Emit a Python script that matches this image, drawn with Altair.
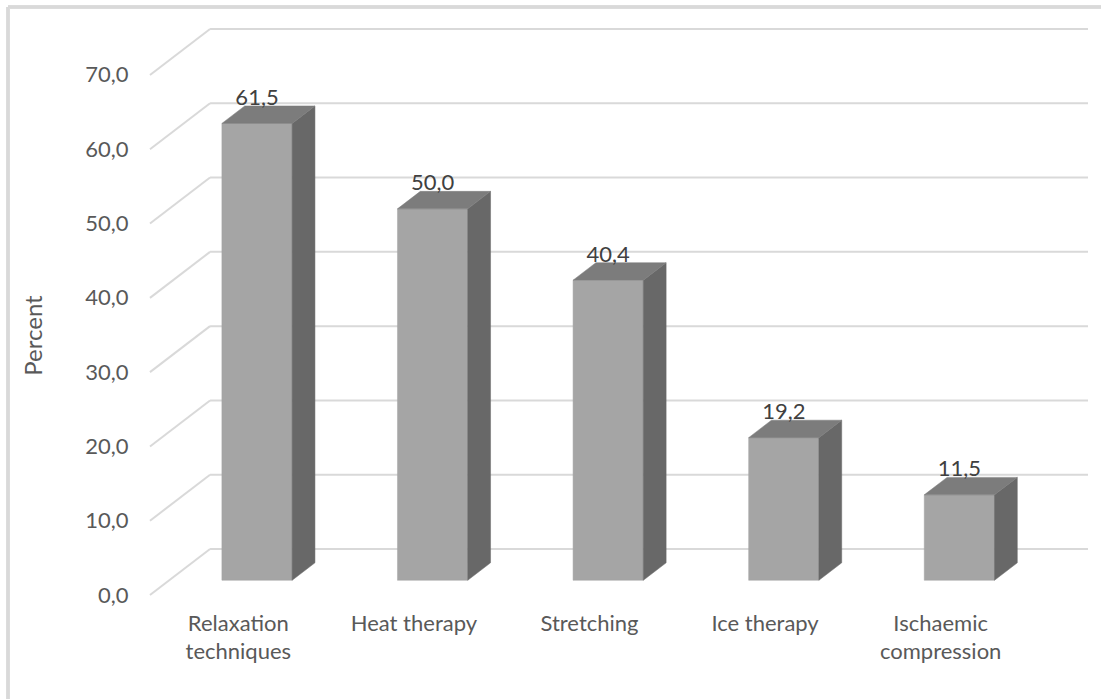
import json
import textwrap

import altair as alt
import pandas as pd

# Treatment methods and the share of respondents using each (%)
categories = ["Relaxation techniques", "Heat therapy", "Stretching", "Ice therapy", "Ischaemic compression"]
percent = [61.5, 50.0, 40.4, 19.2, 11.5]
y_ticks = [0, 10, 20, 30, 40, 50, 60, 70]

# Oblique projection: offset of the back wall from the front plane
DEPTH_X = 0.342   # in category units
DEPTH_Y = 6.19    # in percent units
BAR_FRONT, BAR_BACK = 0.32, 0.70   # depth fractions occupied by each bar
BAR_WIDTH = 0.40

FRONT = "#a5a5a5"
TOP = "#7c7c7c"
SIDE = "#686868"
GRID = "#d9d9d9"
TEXT = "#595959"
LABEL = "#404040"
FONT = "Lato"
FS = 22

n = len(categories)
x_scale = alt.Scale(domain=[0, n + DEPTH_X], nice=False, zero=False)
y_scale = alt.Scale(domain=[0, y_ticks[-1] + DEPTH_Y], nice=False, zero=False)

# ---- tables built from the lists above ----
front_rows, side_rows, top_rows, label_rows = [], [], [], []
for i, (cat, v) in enumerate(zip(categories, percent)):
    c = i + 0.5
    xl, xr = c - BAR_WIDTH / 2, c + BAR_WIDTH / 2
    front_rows.append(dict(cat=cat, x=xl + BAR_FRONT * DEPTH_X, x2=xr + BAR_FRONT * DEPTH_X,
                           y=BAR_FRONT * DEPTH_Y, y2=v + BAR_FRONT * DEPTH_Y))
    for k in (BAR_FRONT, BAR_BACK):
        side_rows.append(dict(cat=cat, x=xr + k * DEPTH_X, y=k * DEPTH_Y, y2=v + k * DEPTH_Y))
        top_rows.append(dict(cat=cat, y=v + k * DEPTH_Y, x=xl + k * DEPTH_X, x2=xr + k * DEPTH_X))
    label_rows.append(dict(cat=cat, value=v, x=c + BAR_FRONT * DEPTH_X, y=v + BAR_BACK * DEPTH_Y))

grid_rows = []
for t in y_ticks:
    # diagonal from the front axis to the back wall, then along the back wall
    grid_rows.append(dict(x=0, y=t, x2=DEPTH_X, y2=t + DEPTH_Y))
    grid_rows.append(dict(x=DEPTH_X, y=t + DEPTH_Y, x2=n + DEPTH_X, y2=t + DEPTH_Y))

front_df = pd.DataFrame(front_rows)
side_df = pd.DataFrame(side_rows)
top_df = pd.DataFrame(top_rows)
label_df = pd.DataFrame(label_rows)
grid_df = pd.DataFrame(grid_rows)

wrapped = [textwrap.wrap(c, 12) for c in categories]
x_label_expr = json.dumps(wrapped) + "[round(datum.value - 0.5)]"
y_label_expr = "replace(format(datum.value, '.1f'), '.', ',')"

x_axis = alt.Axis(
    values=[i + 0.5 for i in range(n)], labelExpr=x_label_expr, title=None,
    domain=False, ticks=False, grid=False, labelAngle=0, labelFont=FONT,
    labelFontSize=FS, labelColor=TEXT, labelPadding=18, labelLineHeight=28,
    labelOverlap=False, labelFlush=False)
y_axis = alt.Axis(
    values=y_ticks, labelExpr=y_label_expr, title="Percent",
    domain=False, ticks=False, grid=False, labelFont=FONT, labelFontSize=FS,
    labelColor=TEXT, labelPadding=22, titleFont=FONT, titleFontSize=24,
    titleFontWeight="normal", titleColor=TEXT, titlePadding=38, titleY=306)

X = alt.X("x:Q", scale=x_scale, axis=x_axis, title=None)
Y = alt.Y("y:Q", scale=y_scale, axis=y_axis, title="Percent")

grid = alt.Chart(grid_df).mark_rule(color=GRID, strokeWidth=2).encode(
    x=X, x2="x2:Q", y=Y, y2="y2:Q")

fronts = alt.Chart(front_df).mark_rect(color=FRONT, stroke=FRONT, strokeWidth=0.5).encode(
    x=X, x2="x2:Q", y=Y, y2="y2:Q")

sides = alt.Chart(side_df).mark_area(color=SIDE, stroke=SIDE, strokeWidth=0.5, orient="vertical").encode(
    x=X, y=Y, y2="y2:Q", detail="cat:N")

tops = alt.Chart(top_df).mark_area(color=TOP, stroke=TOP, strokeWidth=0.5, orient="horizontal").encode(
    y=Y, x=X, x2="x2:Q", detail="cat:N")

labels = alt.Chart(label_df).transform_calculate(
    txt=y_label_expr
).mark_text(font=FONT, fontSize=FS, color=LABEL, baseline="alphabetic", dy=-1).encode(
    x=X, y=Y, text="txt:N")

# light frame around the chart area (top and left edges)
frame_top = alt.Chart(grid_df).mark_rule(color=GRID, strokeWidth=2.5).encode(
    x=alt.value(-142), x2=alt.value(960), y=alt.value(-22))
frame_left = alt.Chart(grid_df).mark_rule(color=GRID, strokeWidth=2.5).encode(
    x=alt.value(-142), y=alt.value(-22), y2=alt.value(680))

chart = alt.layer(grid, frame_top, frame_left, fronts, sides, tops, labels).properties(
    width=938, height=566,
    padding={"left": 150, "top": 29, "right": 13, "bottom": 104},
    autosize=alt.AutoSizeParams(type="none"),
    background="white",
).configure_view(stroke=None)

chart.save("out.html", embed_options={"renderer": "svg", "actions": False})
